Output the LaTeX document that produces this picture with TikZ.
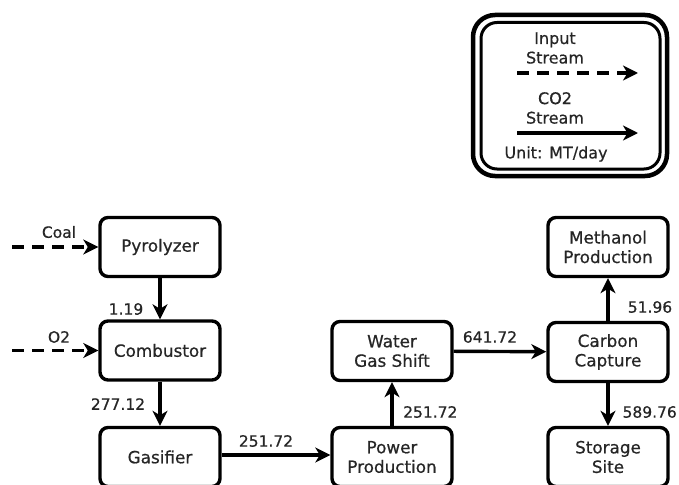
\documentclass[tikz,border=0pt]{standalone}
\usepackage{fontspec}
\setmainfont{DejaVu Sans}[FakeBold=0.6]
\usetikzlibrary{arrows.meta}
\definecolor{ink}{HTML}{000000}
\definecolor{txt}{HTML}{262626}
\begin{document}
\begin{tikzpicture}[x=1pt,y=-1pt,
  box/.style={draw=ink, line width=3.4pt, rounded corners=8pt, minimum width=120pt, minimum height=59pt,
    align=center, text=txt, font=\fontsize{16.8}{19.5}\selectfont, inner sep=0pt},
  flow/.style={draw=ink, line width=3.4pt, -{Stealth[length=15pt,width=15pt,inset=4.5pt]}},
  inflow/.style={flow, dash pattern=on 12pt off 8pt},
  lbl/.style={text=txt, font=\fontsize{15.5}{18}\selectfont, inner sep=0pt},
  legtxt/.style={text=txt, font=\fontsize{16}{19.5}\selectfont, inner sep=0pt, align=center}]
\useasboundingbox (0,0) rectangle (679,484);

% legend
\draw[ink, line width=4.5pt, rounded corners=22pt] (473,15) rectangle (667,176);
\draw[ink, line width=3pt, rounded corners=16pt] (481,22.5) rectangle (660,169);
\node[legtxt] (lin) at (555,48) {Input\\Stream};
\coordinate (l1a) at (517,73);
\coordinate (l1b) at (638,73);
\draw[inflow] (l1a) -- (l1b);
\node[legtxt] (lco) at (555,108) {CO2\\Stream};
\coordinate (l2a) at (517,133);
\coordinate (l2b) at (638,133);
\draw[flow] (l2a) -- (l2b);
\node[legtxt] (lunit) at (556,154) {Unit: MT/day};

% nodes
\node[box] (pyro) at (160,247) {Pyrolyzer};
\node[box] (comb) at (160,350.5) {Combustor};
\node[box] (gas) at (160,457) {Gasifier};
\node[box] (pow) at (392,457) {Power\\Production};
\node[box] (wgs) at (392,351) {Water\\Gas Shift};
\node[box] (cc) at (608,352) {Carbon\\Capture};
\node[box] (meth) at (608,247) {Methanol\\Production};
\node[box] (stor) at (608,457) {Storage\\Site};

% inputs
\coordinate (coal0) at (12,247);
\coordinate (o20) at (12,350.5);
\draw[inflow] (coal0) -- (pyro.west);
\draw[inflow] (o20) -- (comb.west);
\node[lbl] (lcoal) at (59,232) {Coal};
\node[lbl] (lo2) at (59,337) {O2};

% flows
\draw[flow] (pyro) -- (comb);
\node[lbl] (l1) at (126,309) {1.19};
\draw[flow] (comb) -- (gas);
\node[lbl] (l2) at (118,404) {277.12};
\draw[flow] (gas.east |- 0,455) -- (pow.west |- 0,455);
\node[lbl] (l3) at (266,441) {251.72};
\draw[flow] (pow) -- (wgs);
\node[lbl, anchor=west] (l4) at (403,412) {251.72};
\draw[flow] (wgs) -- (cc);
\node[lbl] (l5) at (490,337) {641.72};
\draw[flow] (cc) -- (meth);
\node[lbl] (l6) at (650,307) {51.96};
\draw[flow] (cc) -- (stor);
\node[lbl, anchor=east] (l7) at (677,412) {589.76};
\end{tikzpicture}
\end{document}
